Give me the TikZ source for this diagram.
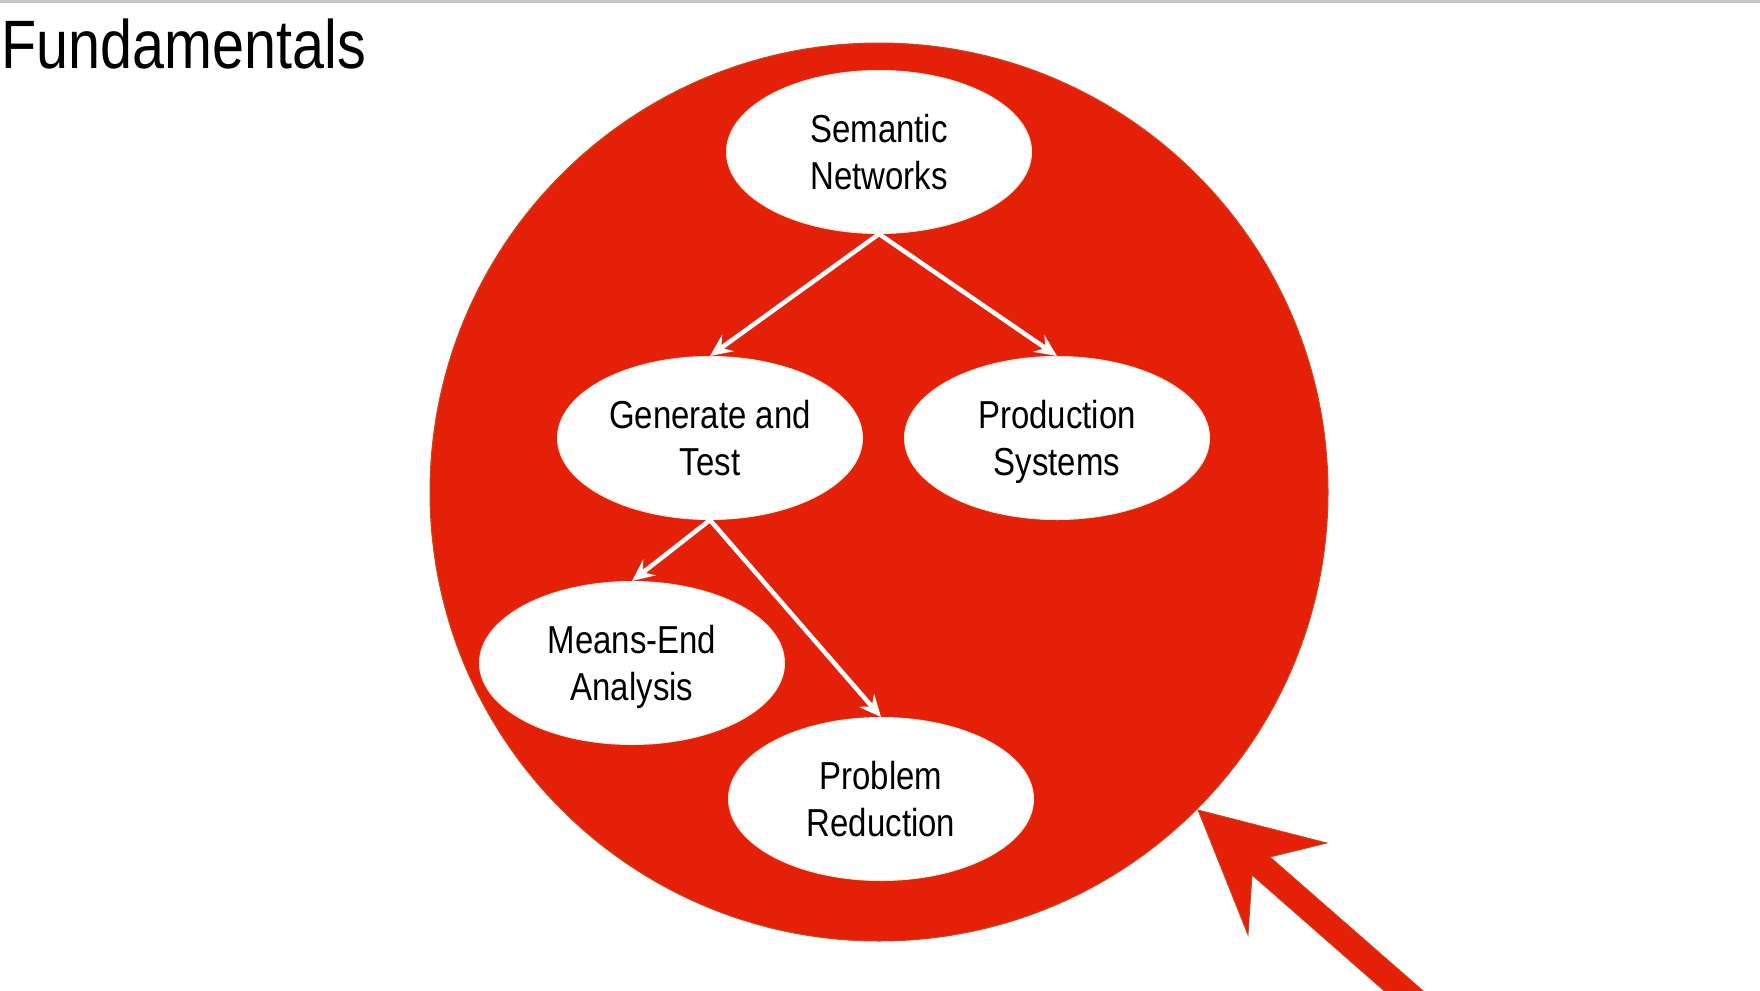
\documentclass[tikz,border=0pt]{standalone}
\usepackage{fontspec}
\usetikzlibrary{shapes.geometric,arrows.meta}
\newfontfamily\nodefont[FakeStretch=0.845]{Liberation Sans}
\newfontfamily\titlefont[FakeStretch=0.84]{Liberation Sans}
\definecolor{mainred}{RGB}{228,33,8}
\definecolor{rededge}{RGB}{205,70,25}
\tikzset{
  topic/.style={ellipse, fill=white, draw=white!85!orange, line width=1pt,
    minimum width=305pt, minimum height=163pt, inner sep=0pt, align=center,
    text depth=0pt, font=\nodefont\fontsize{39}{47}\selectfont},
  link/.style={draw=white, line width=4.5pt,
    -{Stealth[length=22pt,width=20pt,inset=8pt]}},
}
\begin{document}
\begin{tikzpicture}[x=1pt,y=-1pt]
\useasboundingbox (0,0) rectangle (1760,990);
\clip (0,0) rectangle (1760,990);
\fill[white] (0,0) rectangle (1760,990);
\fill[gray!45] (0,0) rectangle (1760,3);
\node[anchor=base west, inner sep=0pt, font=\titlefont\fontsize{68.5}{80}\selectfont] (title) at (1,69) {Fundamentals};
\node[circle, fill=mainred, draw=rededge, line width=1pt, minimum size=898pt, inner sep=0pt] (disc) at (879,492) {};
\node[topic] (sem) at (879,152) {Semantic\\Networks};
\node[topic] (gen) at (710,438) {Generate and\\Test};
\node[topic] (prod) at (1057,438) {Production\\Systems};
\node[topic] (mea) at (632,663) {Means-End\\Analysis};
\node[topic] (prob) at (881,799) {Problem\\Reduction};
\draw[link] (sem.south) -- (gen.north);
\draw[link] (sem.south) -- (prod.north);
\draw[link] (gen.south) -- (mea.north);
\draw[link] (gen.south) -- (prob.north);
\coordinate (tip) at (1198,810);
\fill[mainred, draw=rededge, line width=0.8pt] (tip) -- (1327,843) -- (1270,857) -- (1445,1010) -- (1406,1010) -- (1252,875) -- (1248,935) -- cycle;
\end{tikzpicture}
\end{document}
